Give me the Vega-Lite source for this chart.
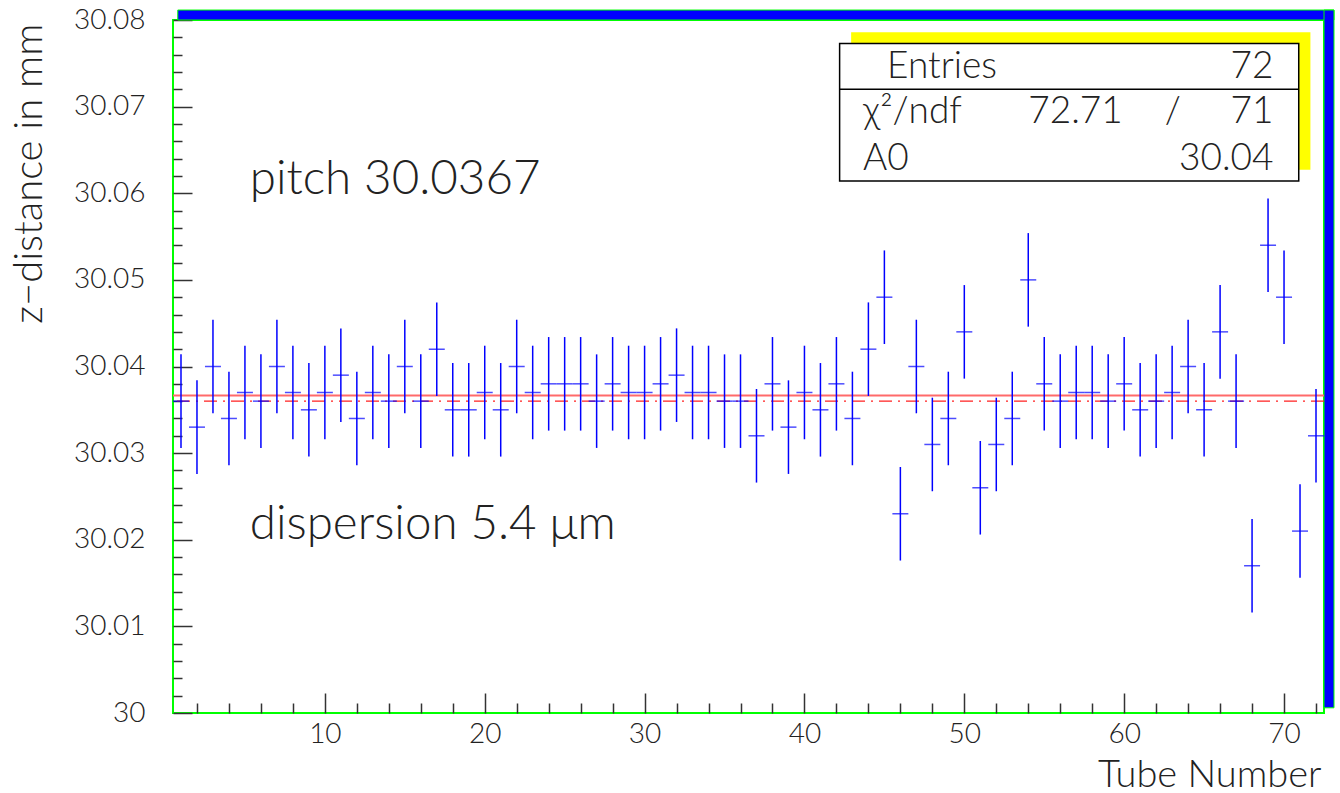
{
  "$schema": "https://vega.github.io/schema/vega-lite/v6.json",
  "width": 1151,
  "height": 693,
  "autosize": {"type": "none"},
  "padding": {"left": 173, "top": 20, "right": 16, "bottom": 80},
  "background": "white",
  "config": {
    "view": {"stroke": "#00ff00", "strokeWidth": 2},
    "font": "Lato",
    "axis": {
      "domain": false, "grid": false, "tickColor": "#333333", "tickWidth": 1.5,
      "labelFont": "Lato", "labelFontWeight": 300, "labelFontSize": 28, "labelColor": "#222222",
      "labelOverlap": false, "labelFlush": false,
      "titleFont": "Lato", "titleFontWeight": 300, "titleColor": "#222222"
    }
  },
  "resolve": {"axis": {"x": "independent", "y": "independent"}},
  "datasets": {
    "tubes": [
      {"tube": 1, "z": 30.036, "err": 0.0054}, {"tube": 2, "z": 30.033, "err": 0.0054},
      {"tube": 3, "z": 30.040, "err": 0.0054}, {"tube": 4, "z": 30.034, "err": 0.0054},
      {"tube": 5, "z": 30.037, "err": 0.0054}, {"tube": 6, "z": 30.036, "err": 0.0054},
      {"tube": 7, "z": 30.040, "err": 0.0054}, {"tube": 8, "z": 30.037, "err": 0.0054},
      {"tube": 9, "z": 30.035, "err": 0.0054}, {"tube": 10, "z": 30.037, "err": 0.0054},
      {"tube": 11, "z": 30.039, "err": 0.0054}, {"tube": 12, "z": 30.034, "err": 0.0054},
      {"tube": 13, "z": 30.037, "err": 0.0054}, {"tube": 14, "z": 30.036, "err": 0.0054},
      {"tube": 15, "z": 30.040, "err": 0.0054}, {"tube": 16, "z": 30.036, "err": 0.0054},
      {"tube": 17, "z": 30.042, "err": 0.0054}, {"tube": 18, "z": 30.035, "err": 0.0054},
      {"tube": 19, "z": 30.035, "err": 0.0054}, {"tube": 20, "z": 30.037, "err": 0.0054},
      {"tube": 21, "z": 30.035, "err": 0.0054}, {"tube": 22, "z": 30.040, "err": 0.0054},
      {"tube": 23, "z": 30.037, "err": 0.0054}, {"tube": 24, "z": 30.038, "err": 0.0054},
      {"tube": 25, "z": 30.038, "err": 0.0054}, {"tube": 26, "z": 30.038, "err": 0.0054},
      {"tube": 27, "z": 30.036, "err": 0.0054}, {"tube": 28, "z": 30.038, "err": 0.0054},
      {"tube": 29, "z": 30.037, "err": 0.0054}, {"tube": 30, "z": 30.037, "err": 0.0054},
      {"tube": 31, "z": 30.038, "err": 0.0054}, {"tube": 32, "z": 30.039, "err": 0.0054},
      {"tube": 33, "z": 30.037, "err": 0.0054}, {"tube": 34, "z": 30.037, "err": 0.0054},
      {"tube": 35, "z": 30.036, "err": 0.0054}, {"tube": 36, "z": 30.036, "err": 0.0054},
      {"tube": 37, "z": 30.032, "err": 0.0054}, {"tube": 38, "z": 30.038, "err": 0.0054},
      {"tube": 39, "z": 30.033, "err": 0.0054}, {"tube": 40, "z": 30.037, "err": 0.0054},
      {"tube": 41, "z": 30.035, "err": 0.0054}, {"tube": 42, "z": 30.038, "err": 0.0054},
      {"tube": 43, "z": 30.034, "err": 0.0054}, {"tube": 44, "z": 30.042, "err": 0.0054},
      {"tube": 45, "z": 30.048, "err": 0.0054}, {"tube": 46, "z": 30.023, "err": 0.0054},
      {"tube": 47, "z": 30.040, "err": 0.0054}, {"tube": 48, "z": 30.031, "err": 0.0054},
      {"tube": 49, "z": 30.034, "err": 0.0054}, {"tube": 50, "z": 30.044, "err": 0.0054},
      {"tube": 51, "z": 30.026, "err": 0.0054}, {"tube": 52, "z": 30.031, "err": 0.0054},
      {"tube": 53, "z": 30.034, "err": 0.0054}, {"tube": 54, "z": 30.050, "err": 0.0054},
      {"tube": 55, "z": 30.038, "err": 0.0054}, {"tube": 56, "z": 30.036, "err": 0.0054},
      {"tube": 57, "z": 30.037, "err": 0.0054}, {"tube": 58, "z": 30.037, "err": 0.0054},
      {"tube": 59, "z": 30.036, "err": 0.0054}, {"tube": 60, "z": 30.038, "err": 0.0054},
      {"tube": 61, "z": 30.035, "err": 0.0054}, {"tube": 62, "z": 30.036, "err": 0.0054},
      {"tube": 63, "z": 30.037, "err": 0.0054}, {"tube": 64, "z": 30.040, "err": 0.0054},
      {"tube": 65, "z": 30.035, "err": 0.0054}, {"tube": 66, "z": 30.044, "err": 0.0054},
      {"tube": 67, "z": 30.036, "err": 0.0054}, {"tube": 68, "z": 30.017, "err": 0.0054},
      {"tube": 69, "z": 30.054, "err": 0.0054}, {"tube": 70, "z": 30.048, "err": 0.0054},
      {"tube": 71, "z": 30.021, "err": 0.0054}, {"tube": 72, "z": 30.032, "err": 0.0054}
    ],
    "band": [
      {"x": 0.8, "x2": 73.125, "y": 30.08, "y2": 30.08115},
      {"x": 72.5, "x2": 73.125, "y": 30.0006, "y2": 30.08115}
    ],
    "shadow": [{"x": 42.92, "x2": 71.65, "y": 30.0627, "y2": 30.0786}],
    "box": [{"x": 42.2, "x2": 70.92, "y": 30.06142, "y2": 30.0773}],
    "divider": [{"x": 42.2, "x2": 70.92, "y": 30.072}],
    "fit": [{"label": "fit", "z": 30.03665}],
    "mean": [{"label": "mean", "z": 30.036}],
    "notes": [
      {"x": 5.3, "y": 30.0599, "t": "pitch 30.0367"},
      {"x": 5.3, "y": 30.0201, "t": "dispersion 5.4 μm"}
    ],
    "statsL": [
      {"x": 45.17, "y": 30.07327, "t": "Entries"},
      {"x": 43.67, "y": 30.06808, "t": "χ²/ndf"},
      {"x": 54.0, "y": 30.06808, "t": "72.71"},
      {"x": 43.67, "y": 30.06269, "t": "A0"}
    ],
    "statsR": [
      {"x": 69.34, "y": 30.07327, "t": "72"},
      {"x": 69.34, "y": 30.06808, "t": "71"},
      {"x": 69.34, "y": 30.06269, "t": "30.04"}
    ],
    "statsC": [{"x": 63.04, "y": 30.06808, "t": "/"}]
  },
  "layer": [
    {
      "data": {"name": "band"},
      "mark": {"type": "rect", "fill": "#0000ff", "stroke": "#00ff00", "strokeWidth": 1},
      "encoding": {
        "x": {"field": "x", "type": "quantitative", "axis": null},
        "x2": {"field": "x2"},
        "y": {"field": "y", "type": "quantitative", "axis": null},
        "y2": {"field": "y2"}
      }
    },
    {
      "data": {"name": "shadow"},
      "mark": {"type": "rect", "color": "#ffff00"},
      "encoding": {
        "x": {"field": "x", "type": "quantitative", "axis": null},
        "x2": {"field": "x2"},
        "y": {"field": "y", "type": "quantitative", "axis": null},
        "y2": {"field": "y2"}
      }
    },
    {
      "data": {"name": "box"},
      "mark": {"type": "rect", "fill": "#ffffff", "stroke": "#000000", "strokeWidth": 1.5},
      "encoding": {
        "x": {"field": "x", "type": "quantitative", "axis": null},
        "x2": {"field": "x2"},
        "y": {"field": "y", "type": "quantitative", "axis": null},
        "y2": {"field": "y2"}
      }
    },
    {
      "data": {"name": "divider"},
      "mark": {"type": "rule", "color": "#000000", "strokeWidth": 1.5},
      "encoding": {
        "x": {"field": "x", "type": "quantitative", "axis": null},
        "x2": {"field": "x2"},
        "y": {"field": "y", "type": "quantitative", "axis": null}
      }
    },
    {
      "data": {"name": "fit"},
      "mark": {"type": "rule", "color": "#ff6a6a", "strokeWidth": 2},
      "encoding": {"y": {"field": "z", "type": "quantitative", "axis": null}}
    },
    {
      "data": {"name": "mean"},
      "mark": {"type": "rule", "color": "#ff2020", "strokeWidth": 1.3, "strokeDash": [13, 6, 2, 6]},
      "encoding": {"y": {"field": "z", "type": "quantitative", "axis": null}}
    },
    {
      "data": {"name": "tubes"},
      "mark": {"type": "errorbar", "color": "#0000ff", "thickness": 1.5},
      "encoding": {
        "x": {
          "field": "tube", "type": "quantitative",
          "axis": {
            "orient": "bottom",
            "values": [2,4,6,8,12,14,16,18,22,24,26,28,32,34,36,38,42,44,46,48,52,54,56,58,62,64,66,68,72],
            "labels": false, "title": null, "tickSize": -10
          }
        },
        "y": {
          "field": "z", "type": "quantitative",
          "axis": {
            "orient": "left",
            "values": [30.002,30.004,30.006,30.008,30.012,30.014,30.016,30.018,30.022,30.024,30.026,30.028,30.032,30.034,30.036,30.038,30.042,30.044,30.046,30.048,30.052,30.054,30.056,30.058,30.062,30.064,30.066,30.068,30.072,30.074,30.076,30.078],
            "labels": false, "title": null, "tickSize": -9
          }
        },
        "yError": {"field": "err"}
      }
    },
    {
      "data": {"name": "tubes"},
      "mark": {"type": "tick", "orient": "horizontal", "size": 16, "thickness": 1.5, "color": "#0000ff"},
      "encoding": {
        "x": {
          "field": "tube", "type": "quantitative",
          "scale": {"domain": [0.5, 72.5], "nice": false, "zero": false},
          "axis": {
            "orient": "bottom",
            "values": [10, 20, 30, 40, 50, 60, 70],
            "format": "d",
            "tickSize": -20, "labelPadding": 27, "labelBaseline": "top",
            "title": "Tube Number", "titleFontSize": 38, "titleAnchor": "end", "titleAlign": "right", "titleBaseline": "alphabetic",
            "titleX": 1148, "titleY": 73
          }
        },
        "y": {
          "field": "z", "type": "quantitative",
          "scale": {"domain": [30, 30.08], "nice": false, "zero": false},
          "axis": {
            "orient": "left",
            "values": [30, 30.01, 30.02, 30.03, 30.04, 30.05, 30.06, 30.07, 30.08],
            "labelExpr": "format(datum.value, '.2~f')",
            "tickSize": -19, "labelPadding": 47,
            "title": "z−distance in mm", "titleFontSize": 40, "titleAnchor": "end", "titleAlign": "right", "titleBaseline": "alphabetic",
            "titleAngle": -90, "titleX": -132, "titleY": 3
          }
        }
      }
    },
    {
      "data": {"name": "notes"},
      "mark": {"type": "text", "align": "left", "baseline": "alphabetic", "fontSize": 47.5, "fontWeight": 300, "font": "Lato", "color": "#222222"},
      "encoding": {
        "x": {"field": "x", "type": "quantitative", "axis": null},
        "y": {"field": "y", "type": "quantitative", "axis": null},
        "text": {"field": "t"}
      }
    },
    {
      "data": {"name": "statsL"},
      "mark": {"type": "text", "align": "left", "baseline": "alphabetic", "fontSize": 37, "fontWeight": 300, "font": "Lato", "color": "#222222"},
      "encoding": {
        "x": {"field": "x", "type": "quantitative", "axis": null},
        "y": {"field": "y", "type": "quantitative", "axis": null},
        "text": {"field": "t"}
      }
    },
    {
      "data": {"name": "statsR"},
      "mark": {"type": "text", "align": "right", "baseline": "alphabetic", "fontSize": 37, "fontWeight": 300, "font": "Lato", "color": "#222222"},
      "encoding": {
        "x": {"field": "x", "type": "quantitative", "axis": null},
        "y": {"field": "y", "type": "quantitative", "axis": null},
        "text": {"field": "t"}
      }
    },
    {
      "data": {"name": "statsC"},
      "mark": {"type": "text", "align": "center", "baseline": "alphabetic", "fontSize": 37, "fontWeight": 300, "font": "Lato", "color": "#222222"},
      "encoding": {
        "x": {"field": "x", "type": "quantitative", "axis": null},
        "y": {"field": "y", "type": "quantitative", "axis": null},
        "text": {"field": "t"}
      }
    }
  ]
}
